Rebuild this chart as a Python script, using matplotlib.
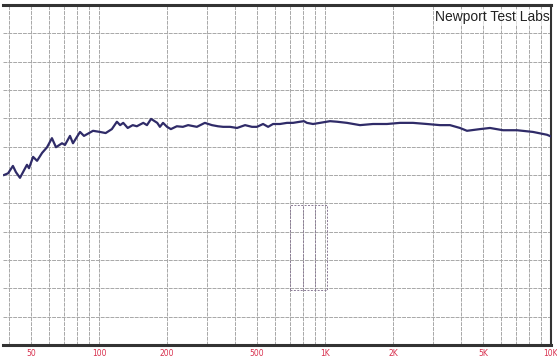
import numpy as np
import matplotlib
matplotlib.use('Agg')
import matplotlib.pyplot as plt
from matplotlib.ticker import FixedLocator, NullFormatter

# frequency response (Hz, dB)
freq = [38, 39.6, 41.6, 42.9, 44.7, 46.1, 48.0, 49.0, 51.1, 53.2, 56.0, 58.9,
        61.9, 64.5, 68.6, 70.7, 74.4, 76.7, 82.4, 85.8, 94.1, 101, 107, 114,
        120, 124, 128, 134, 141, 147, 157, 163, 170, 181, 186, 192, 200, 208,
        221, 235, 248, 271, 294, 316, 336, 354, 380, 408, 443, 475, 500, 532,
        543, 560, 589, 632, 679, 722, 775, 807, 832, 885, 950, 1052, 1130,
        1251, 1428, 1630, 1880, 2147, 2450, 2825, 3228, 3573, 3956, 4248,
        4853, 5370, 6135, 7075, 8324, 9600, 10000]
level = [70.0, 70.3, 71.6, 70.5, 69.5, 70.5, 71.8, 71.2, 73.2, 72.5, 73.9, 74.9,
         76.5, 74.9, 75.6, 75.3, 76.9, 75.6, 77.6, 76.9, 77.8, 77.6, 77.4, 78.1,
         79.4, 78.8, 79.2, 78.3, 78.8, 78.6, 79.2, 78.8, 79.9, 79.2, 78.5, 79.2,
         78.5, 78.1, 78.6, 78.5, 78.8, 78.5, 79.2, 78.8, 78.6, 78.5, 78.5, 78.3,
         78.8, 78.5, 78.5, 79.0, 78.8, 78.5, 79.0, 79.0, 79.2, 79.2, 79.4, 79.5,
         79.2, 79.0, 79.2, 79.5, 79.4, 79.2, 78.8, 79.0, 79.0, 79.2, 79.2, 79.0,
         78.8, 78.8, 78.3, 77.8, 78.1, 78.3, 77.9, 77.9, 77.6, 77.1, 76.8]

tick_freqs = [50, 100, 200, 500, 1000, 2000, 5000, 10000]
tick_labels = ['50', '100', '200', '500', '1K', '2K', '5K', '10K']

# dashed box left on the scan (Hz, dB)
box_freq = [700, 1020]
box_level = [49.7, 64.7]

fig = plt.figure(figsize=(5.57, 3.62), dpi=100)
ax = fig.add_axes([3 / 557, 17 / 362, 548 / 557, 340 / 362])

ax.set_xscale('log')
ax.set_xlim(37.6, 10000)
ax.set_ylim(40, 100)

# grid: every 1..9 multiple per decade, 5 dB rows
vlines = [m * 10 ** d for d in range(1, 5) for m in range(1, 10)]
ax.xaxis.set_major_locator(FixedLocator(tick_freqs))
ax.xaxis.set_minor_locator(FixedLocator(vlines))
ax.xaxis.set_minor_formatter(NullFormatter())
ax.set_xticklabels(tick_labels)
ax.set_yticks(np.arange(40, 101, 5))
ax.set_yticklabels([])

ax.grid(True, which='both', axis='x', color='#a8a8a8', lw=0.7, ls=(0, (4, 1)))
ax.grid(True, which='major', axis='y', color='#a8a8a8', lw=0.7, ls=(0, (4, 1)))

ax.tick_params(axis='x', which='both', length=0, pad=3,
               labelsize=5.5, labelcolor='#d8304e')
ax.tick_params(axis='y', length=0)

for s in ['top', 'bottom']:
    ax.spines[s].set_linewidth(2.2)
    ax.spines[s].set_color('#333333')
ax.spines['right'].set_linewidth(1.5)
ax.spines['right'].set_color('#333333')
ax.spines['left'].set_visible(False)

ax.plot([box_freq[0], box_freq[1], box_freq[1], box_freq[0], box_freq[0]],
        [box_level[0], box_level[0], box_level[1], box_level[1], box_level[0]],
        color='#8a7a95', lw=0.7, ls=(0, (2, 1.5)), zorder=3)
for f in [800, 900]:
    ax.plot([f, f], box_level, color='#8a7a95', lw=0.7, ls=(0, (2, 1.5)), zorder=3)

ax.plot(freq, level, color='#2f2b68', lw=1.6, zorder=5)

ax.text(0.997, 0.985, 'Newport Test Labs', transform=ax.transAxes,
        ha='right', va='top', fontsize=10, family='Liberation Sans',
        color='#222222', zorder=6,
        bbox=dict(facecolor='white', edgecolor='none', pad=0.5, alpha=0.6))

fig.savefig('out.png', dpi=100)
